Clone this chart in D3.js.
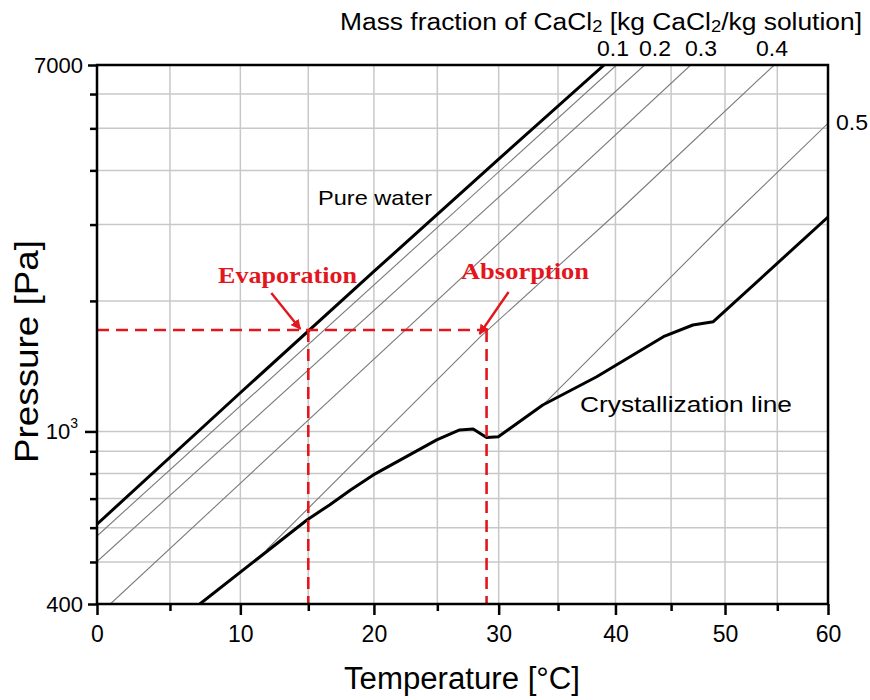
<!DOCTYPE html>
<html>
<head>
<meta charset="utf-8">
<script src="https://cdn.jsdelivr.net/npm/d3@7/dist/d3.min.js"></script>
<style>
  body { margin: 0; background: #fff; }
  svg { display: block; }
  text { font-family: "Liberation Sans", Arial, sans-serif; fill: #000; }
</style>
</head>
<body>
<svg id="chart" width="870" height="700"></svg>
<script>
// ---------------- data ----------------
const xTicksMajor = [0, 10, 20, 30, 40, 50, 60];
const xTicksMinor = [5, 15, 25, 35, 45, 55];
const xGrid = [5, 10, 15, 20, 25, 30, 35, 40, 45, 50, 55];
const yTicksMajor = [400, 1000, 7000];
const yTicksMinor = [500, 600, 700, 800, 900, 2000, 3000, 4000, 5000, 6000];
const yGrid = [500, 600, 700, 800, 900, 1000, 2000, 3000, 4000, 5000, 6000];

// [temperature °C, pressure Pa]
const pureWater = [[0, 611], [10, 1228], [20, 2339], [30, 4246], [39, 7000]];
const frac01 = [[0, 574], [40.1, 7000]];
const frac02 = [[0, 501], [42.6, 7000]];
const frac03 = [[0.9, 400], [46.8, 7000]];
const frac04 = [[11.9, 533], [28.5, 1654], [40.4, 3241], [54.7, 7000]];
const frac05 = [[33.7, 1150], [49.8, 2993], [60, 5135]];
const crystallization = [[7.1, 400], [14.9, 625], [16.6, 677], [18.2, 733], [19.95, 794],
  [24.95, 956], [26.8, 1008], [27.9, 1013], [29.0, 968], [29.97, 972], [33.7, 1151],
  [38.35, 1337], [44.3, 1654], [47.0, 1760], [48.9, 1791], [60, 3123]];

const fracLabels = ["0.1", "0.2", "0.3", "0.4", "0.5"];
const evaporationPoint = [15, 1714];
const absorptionPoint = [29, 1714];

// ---------------- layout ----------------
const svg = d3.select("#chart");
const L = 97, R = 828, T = 65, B = 604;
const red = "#e3161e";

// x axis is linear in -1/T(K) (Clausius-Clapeyron style)
const tf = t => -1 / (t + 273.15);
const itf = v => -1 / v - 273.15;
const xs = d3.scaleLinear().domain([tf(0), tf(60)]).range([L, R]);
const X = t => xs(tf(t));
const y = d3.scaleLog().domain([400, 7000]).range([B, T]);

// grid
const grid = svg.append("g").attr("stroke", "#c8c8c8").attr("stroke-width", 1.5);
grid.selectAll("line.gx").data(xGrid).join("line")
  .attr("x1", d => X(d)).attr("x2", d => X(d)).attr("y1", T).attr("y2", B);
grid.selectAll("line.gy").data(yGrid).join("line")
  .attr("x1", L).attr("x2", R).attr("y1", d => y(d)).attr("y2", d => y(d));

svg.append("clipPath").attr("id", "plot").append("rect")
  .attr("x", L).attr("y", T).attr("width", R - L).attr("height", B - T);

const line = d3.line().x(d => X(d[0])).y(d => y(d[1]));
const plot = svg.append("g").attr("clip-path", "url(#plot)");

[frac01, frac02, frac03, frac04, frac05].forEach(s => {
  plot.append("path").attr("d", line(s)).attr("fill", "none")
    .attr("stroke", "#7a7a7a").attr("stroke-width", 1.1);
});
plot.append("path").attr("d", line(pureWater)).attr("fill", "none")
  .attr("stroke", "#000").attr("stroke-width", 3);
plot.append("path").attr("d", line(crystallization)).attr("fill", "none")
  .attr("stroke", "#000").attr("stroke-width", 3).attr("stroke-linejoin", "round");

// red dashed guide lines
const dash = svg.append("g").attr("stroke", red).attr("stroke-width", 2.6)
  .attr("stroke-dasharray", "12,7").attr("fill", "none");
dash.append("line").attr("x1", X(0)).attr("x2", X(absorptionPoint[0]))
  .attr("y1", y(evaporationPoint[1])).attr("y2", y(absorptionPoint[1]));
[evaporationPoint, absorptionPoint].forEach(p => {
  dash.append("line").attr("x1", X(p[0])).attr("x2", X(p[0]))
    .attr("y1", y(p[1])).attr("y2", B);
});

// arrows
const defs = svg.append("defs");
defs.append("marker").attr("id", "ah").attr("viewBox", "0 0 10 10")
  .attr("refX", 9).attr("refY", 5).attr("markerWidth", 4.2).attr("markerHeight", 4.2)
  .attr("markerUnits", "strokeWidth").attr("orient", "auto")
  .append("path").attr("d", "M0,0 L10,5 L0,10 Z").attr("fill", red);
function arrow(p, sx, sy, tx, ty) {
  const px = X(p[0]), py = y(p[1]);
  svg.append("line").attr("x1", px + sx).attr("y1", py + sy)
    .attr("x2", px + tx).attr("y2", py + ty)
    .attr("stroke", red).attr("stroke-width", 2.4).attr("marker-end", "url(#ah)");
}
arrow(evaporationPoint, -37, -37, -8, -1);
arrow(absorptionPoint, 22, -38, -7, 4);

// frame
svg.append("rect").attr("x", L).attr("y", T).attr("width", R - L).attr("height", B - T)
  .attr("fill", "none").attr("stroke", "#000").attr("stroke-width", 2.5);

// bottom axis
const gxMaj = svg.append("g").attr("transform", `translate(0,${B})`)
  .call(d3.axisBottom(xs).tickValues(xTicksMajor.map(tf)).tickSize(11).tickPadding(11)
    .tickFormat(v => Math.round(itf(v))));
const gxMin = svg.append("g").attr("transform", `translate(0,${B})`)
  .call(d3.axisBottom(xs).tickValues(xTicksMinor.map(tf)).tickSize(7).tickFormat(""));
// left axis
const gyMaj = svg.append("g").attr("transform", `translate(${L},0)`)
  .call(d3.axisLeft(y).tickValues(yTicksMajor).tickSize(9).tickPadding(5)
    .tickFormat(d => d === 1000 ? "" : d3.format("d")(d)));
const gyMin = svg.append("g").attr("transform", `translate(${L},0)`)
  .call(d3.axisLeft(y).tickValues(yTicksMinor).tickSize(7).tickFormat(""));
[gxMaj, gxMin, gyMaj, gyMin].forEach(g => {
  g.select(".domain").remove();
  g.selectAll(".tick line").attr("stroke", "#000").attr("stroke-width", 2.5);
  g.selectAll("text").attr("font-family", "Liberation Sans, Arial, sans-serif").attr("fill", "#000");
});
gxMaj.selectAll("text").attr("font-size", 23);
gyMaj.selectAll("text").attr("font-size", 22);
// 10^3 label
const t3 = gyMaj.selectAll(".tick").filter(d => d === 1000);
t3.select("line").attr("x2", -12);
const lab = t3.select("text").text(null).attr("x", -19);
lab.append("tspan").text("10");
lab.append("tspan").text("3").attr("font-size", 14).attr("dy", "-0.75em");

// text helper
function label(txt, x, yy, opts = {}) {
  const t = svg.append("text").attr("x", x).attr("y", yy)
    .attr("font-size", opts.size || 22).text(txt);
  if (opts.anchor) t.attr("text-anchor", opts.anchor);
  if (opts.len) t.attr("textLength", opts.len).attr("lengthAdjust", "spacingAndGlyphs");
  if (opts.serif) t.style("font-family", "Liberation Serif, 'Times New Roman', serif").attr("font-weight", "bold");
  if (opts.fill) t.style("fill", opts.fill);
  return t;
}

// title with subscripts
const title = svg.append("text").attr("x", 340).attr("y", 30).attr("font-size", 23)
  .attr("textLength", 522).attr("lengthAdjust", "spacingAndGlyphs");
title.append("tspan").text("Mass fraction of CaCl");
title.append("tspan").text("2").attr("font-size", 16).attr("dy", 2);
title.append("tspan").text(" [kg CaCl").attr("font-size", 23).attr("dy", -2);
title.append("tspan").text("2").attr("font-size", 16).attr("dy", 2);
title.append("tspan").text("/kg solution]").attr("font-size", 23).attr("dy", -2);

// fraction labels
const fracPos = [[613, 56], [655, 56], [701, 56], [772, 56], [852, 130]];
fracLabels.forEach((f, i) => label(f, fracPos[i][0], fracPos[i][1], { size: 22, anchor: "middle", len: 32 }));

label("Pure water", 318, 205, { size: 21, len: 114 });
label("Crystallization line", 580, 412, { size: 22.5, len: 212 });
label("Evaporation", 218, 283, { size: 24, len: 139, serif: true, fill: red });
label("Absorption", 461, 279, { size: 24, len: 128, serif: true, fill: red });

label("Temperature [°C]", 462, 689, { size: 31, anchor: "middle", len: 236 });
svg.append("text").attr("transform", "translate(38,351.5) rotate(-90)")
  .attr("text-anchor", "middle").attr("font-size", 33)
  .attr("textLength", 223).attr("lengthAdjust", "spacingAndGlyphs").text("Pressure [Pa]");
</script>
</body>
</html>
